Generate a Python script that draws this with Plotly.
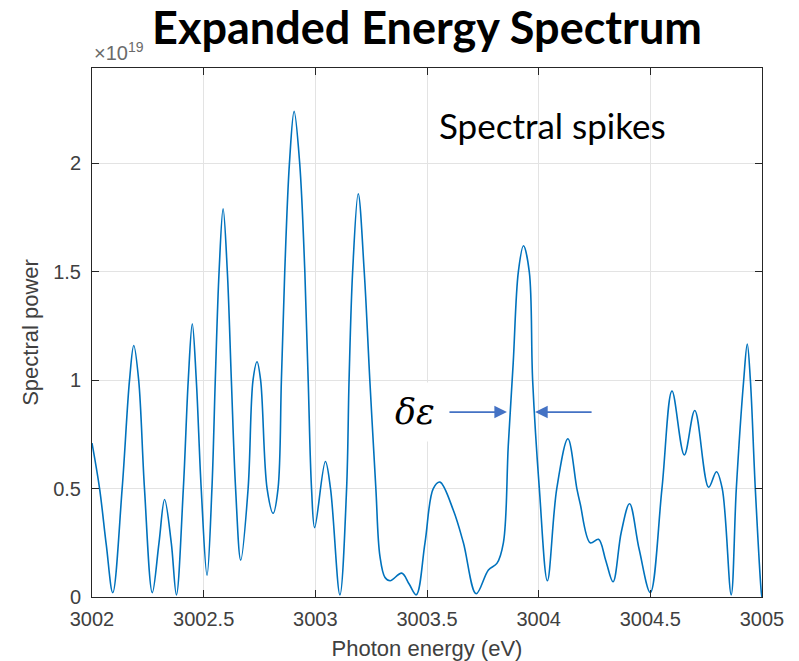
import plotly.graph_objects as go

# Photon energy samples (eV) and spectral power (units of 1e19)
energy_ev = [
    3002.000, 3002.034, 3002.064, 3002.093, 3002.135, 3002.168, 3002.187, 3002.209,
    3002.235, 3002.270, 3002.300, 3002.325, 3002.355, 3002.378, 3002.409, 3002.431,
    3002.449, 3002.467, 3002.489, 3002.515, 3002.537, 3002.552, 3002.569, 3002.587,
    3002.606, 3002.624, 3002.643, 3002.666, 3002.699, 3002.721, 3002.739, 3002.755,
    3002.784, 3002.811, 3002.833, 3002.848, 3002.863, 3002.884, 3002.905, 3002.930,
    3002.953, 3002.968, 3002.983, 3002.997, 3003.045, 3003.068, 3003.110, 3003.140,
    3003.151, 3003.167, 3003.192, 3003.219, 3003.244, 3003.271, 3003.289, 3003.312,
    3003.335, 3003.387, 3003.420, 3003.452, 3003.491, 3003.528, 3003.558, 3003.618,
    3003.663, 3003.720, 3003.775, 3003.813, 3003.842, 3003.864, 3003.886, 3003.909,
    3003.932, 3003.958, 3003.973, 3004.003, 3004.039, 3004.081, 3004.131, 3004.171,
    3004.186, 3004.231, 3004.268, 3004.300, 3004.333, 3004.370, 3004.407, 3004.450,
    3004.500, 3004.552, 3004.597, 3004.652, 3004.699, 3004.761, 3004.796, 3004.822,
    3004.862, 3004.885, 3004.918, 3004.934, 3004.948, 3004.970, 3004.997, 3005.000,
]
power_e19 = [
    0.71, 0.50, 0.24, 0.02, 0.50, 1.00, 1.16, 1.00,
    0.50, 0.02, 0.25, 0.45, 0.25, 0.01, 0.50, 1.00,
    1.26, 1.00, 0.50, 0.10, 0.50, 1.00, 1.50, 1.79,
    1.50, 1.00, 0.50, 0.17, 0.50, 1.00, 1.085, 1.00,
    0.50, 0.386, 0.50, 1.00, 1.50, 2.00, 2.24, 2.00,
    1.50, 1.00, 0.50, 0.32, 0.625, 0.50, 0.01, 0.50,
    1.00, 1.50, 1.86, 1.50, 1.00, 0.50, 0.19, 0.09,
    0.075, 0.11, 0.06, 0.01, 0.25, 0.50, 0.53, 0.40,
    0.25, 0.015, 0.125, 0.155, 0.25, 0.70, 1.08, 1.50,
    1.62, 1.50, 1.00, 0.50, 0.075, 0.50, 0.73, 0.50,
    0.43, 0.25, 0.266, 0.17, 0.07, 0.30, 0.43, 0.22,
    0.02, 0.50, 0.95, 0.655, 0.86, 0.506, 0.578, 0.50,
    0.01, 0.50, 1.00, 1.167, 1.00, 0.50, 0.02, 0.00,
]

x_ticks = [3002, 3002.5, 3003, 3003.5, 3004, 3004.5, 3005]
x_tick_text = ["3002", "3002.5", "3003", "3003.5", "3004", "3004.5", "3005"]
y_ticks = [0, 0.5, 1, 1.5, 2]
y_tick_text = ["0", "0.5", "1", "1.5", "2"]

# Spike-width marker: the two arrow tips sit on the flanks of the 3003.93 eV spike
width_left_ev = 3003.858
width_right_ev = 3003.984
width_level = 0.853

sans = "Liberation Sans, Arial, sans-serif"
axis_font = dict(family=sans, size=20, color="#404040")
line_col = "#262626"
grid_col = "#e3e3e3"

fig = go.Figure()
fig.add_trace(go.Scatter(
    x=energy_ev, y=power_e19, mode="lines",
    line=dict(color="#0072BD", width=1.6, shape="spline", smoothing=1.0),
    hoverinfo="x+y", showlegend=False,
))

fig.update_layout(
    width=799, height=661,
    margin=dict(l=92, r=37, t=68, b=64, autoexpand=False),
    paper_bgcolor="white", plot_bgcolor="white",
    title=dict(
        text="<b>Expanded Energy Spectrum</b>",
        x=0.5, xanchor="center", xref="paper",
        y=0.958, yanchor="middle",
        font=dict(family="Lato, Open Sans, sans-serif", size=45, color="black"),
    ),
    xaxis=dict(
        range=[3002, 3005], tickvals=x_ticks, ticktext=x_tick_text,
        ticks="inside", ticklen=7, tickcolor=line_col, tickwidth=1,
        showline=True, linecolor=line_col, linewidth=1, mirror="ticks",
        showgrid=True, gridcolor=grid_col, gridwidth=1, zeroline=False,
        tickfont=axis_font, ticklabelstandoff=4, automargin=False,
        title=dict(text="Photon energy (eV)", standoff=18,
                   font=dict(family=sans, size=22, color="#404040")),
    ),
    yaxis=dict(
        range=[0, 2.44], tickvals=y_ticks, ticktext=y_tick_text,
        ticks="inside", ticklen=7, tickcolor=line_col, tickwidth=1,
        showline=True, linecolor=line_col, linewidth=1, mirror="ticks",
        showgrid=True, gridcolor=grid_col, gridwidth=1, zeroline=False,
        tickfont=axis_font, ticklabelstandoff=6, automargin=False,
        title=dict(text="Spectral power", standoff=8,
                   font=dict(family=sans, size=22, color="#404040")),
    ),
)

arrow_col = "#4472C4"
fig.add_annotation(
    xref="paper", yref="paper", x=0, y=1, xanchor="left", yanchor="bottom",
    text="×10<sup>19</sup>", showarrow=False, yshift=2,
    font=dict(family=sans, size=20, color="#6a6a6a"),
)
fig.add_annotation(
    x=3003.544, y=2.177, xanchor="left", yanchor="middle",
    text="Spectral spikes", showarrow=False,
    font=dict(family="Lato, Open Sans, sans-serif", size=35, color="black"),
)
fig.add_annotation(
    x=3003.446, y=width_level, xanchor="center", yanchor="middle",
    text="<i>δε</i>", showarrow=False, bgcolor="white", borderpad=9,
    font=dict(family="DejaVu Serif, Liberation Serif, serif", size=35, color="black"),
)
fig.add_annotation(
    x=width_left_ev, y=width_level, ax=-59, ay=0, text="",
    showarrow=True, arrowhead=2, arrowsize=1.4, arrowwidth=1.8, arrowcolor=arrow_col,
)
fig.add_annotation(
    x=width_right_ev, y=width_level, ax=58, ay=0, text="",
    showarrow=True, arrowhead=2, arrowsize=1.4, arrowwidth=1.8, arrowcolor=arrow_col,
)

fig.write_html("out.html")
